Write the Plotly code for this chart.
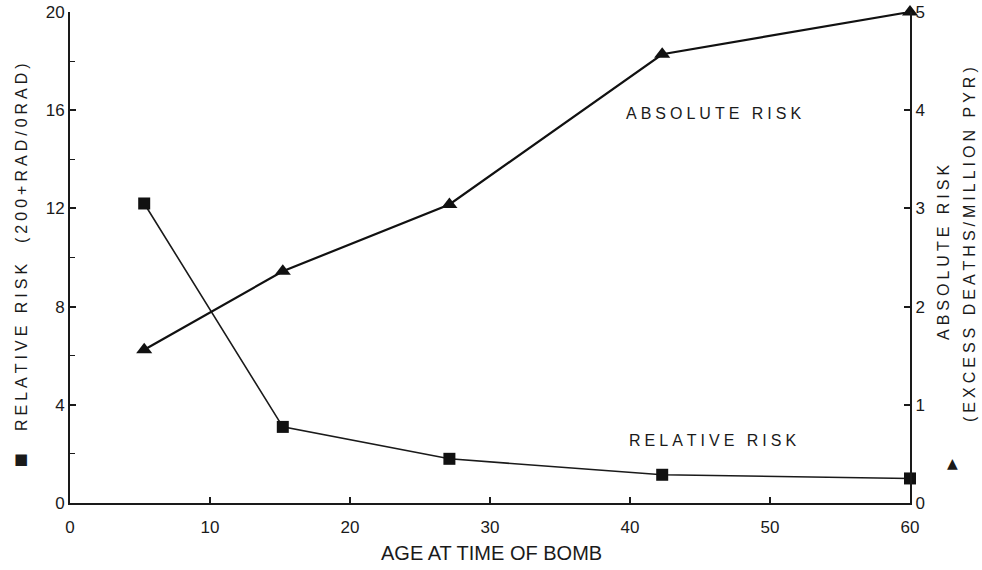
import plotly.graph_objects as go

# Data
age = [5.3, 15.2, 27.1, 42.3, 60.0]
relative_risk = [12.2, 3.1, 1.8, 1.15, 1.0]
absolute_risk = [1.56, 2.36, 3.04, 4.57, 5.0]

x_ticks = [0, 10, 20, 30, 40, 50, 60]
left_ticks = [0, 4, 8, 12, 16, 20]
right_ticks = [0, 1, 2, 3, 4, 5]

FONT = "Liberation Sans, Arial, sans-serif"
W, H = 982, 570
L, R, T, B = 70, 72, 12, 67
PW, PH = W - L - R, H - T - B


def px(xp):
    return (xp - L) / PW


def py(yp):
    return (H - B - yp) / PH


def spaced(s, sep="\u2005"):
    return sep.join(list(s))


fig = go.Figure()
fig.add_trace(go.Scatter(
    x=age, y=relative_risk, mode="lines+markers", yaxis="y",
    line=dict(color="#1a1a1a", width=1.6),
    marker=dict(symbol="square", size=12, color="#111"),
    showlegend=False, cliponaxis=False,
))
fig.add_trace(go.Scatter(
    x=age, y=absolute_risk, mode="lines+markers", yaxis="y2",
    line=dict(color="#111", width=2.2),
    marker=dict(symbol="triangle-up", size=14, color="#111"),
    showlegend=False, cliponaxis=False,
))

axis_common = dict(
    showgrid=False, zeroline=False, showline=True, linecolor="#1a1a1a",
    linewidth=2, ticks="inside", tickcolor="#1a1a1a", tickwidth=1.5,
    ticklen=6, tickfont=dict(family=FONT, size=17, color="#1a1a1a"),
    automargin=False,
)


def ann(text, xp, yp, size=16, angle=0, family=FONT):
    return dict(text=text, xref="paper", yref="paper", x=px(xp), y=py(yp),
                xanchor="center", yanchor="middle", textangle=angle,
                showarrow=False, font=dict(family=family, size=size, color="#1a1a1a"))


fig.update_layout(
    width=W, height=H,
    margin=dict(l=L, r=R, t=T, b=B, autoexpand=False),
    paper_bgcolor="white", plot_bgcolor="white",
    xaxis=dict(range=[0, 60], tickvals=x_ticks, ticklabelstandoff=8, **axis_common),
    yaxis=dict(range=[0, 20], tickvals=left_ticks,
               minor=dict(dtick=2, ticks="inside", ticklen=5,
                          tickcolor="#1a1a1a", tickwidth=1.2),
               **axis_common),
    yaxis2=dict(range=[0, 5], tickvals=right_ticks, overlaying="y",
                side="right", **axis_common),
    annotations=[
        ann(spaced("RELATIVE RISK  (200+RAD/0RAD)"), 21, 247, angle=-90),
        ann("■", 21, 459, size=15, family="DejaVu Sans"),
        ann(spaced("ABSOLUTE RISK"), 943, 253, angle=-90),
        ann(spaced("(EXCESS DEATHS/MILLION PYR)"), 969, 245, angle=-90),
        ann("▲", 952, 463, size=14, family="DejaVu Sans"),
        ann(spaced("ABSOLUTE RISK"), 713, 113),
        ann(spaced("RELATIVE RISK"), 712, 440),
        ann("AGE AT TIME OF BOMB", 491, 553, size=20),
    ],
)

fig.write_html("out.html")
